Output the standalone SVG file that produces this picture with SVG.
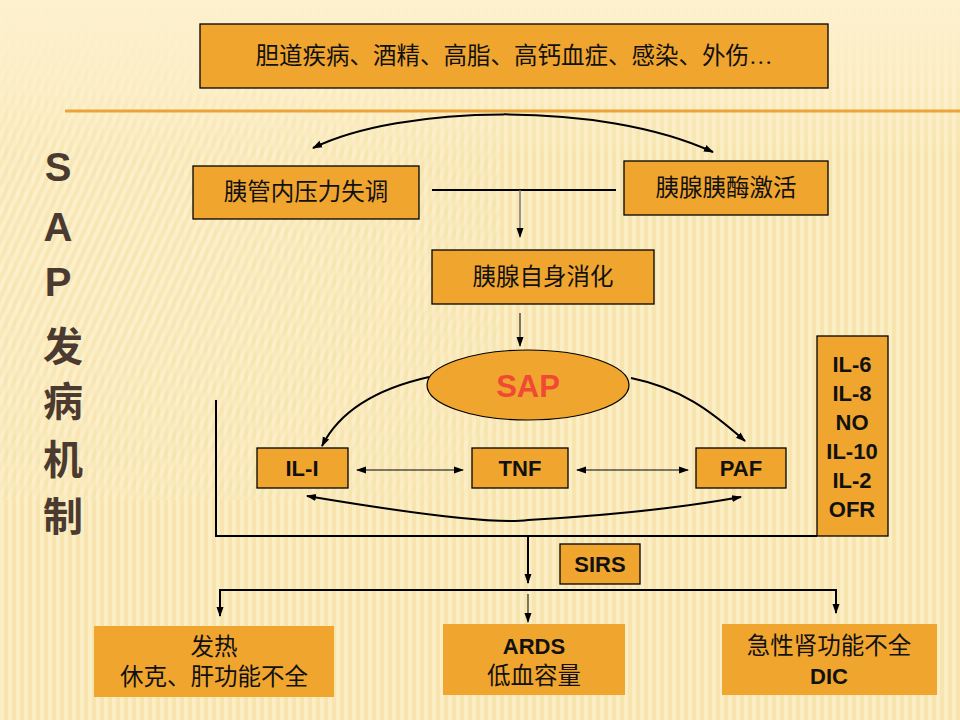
<svg xmlns="http://www.w3.org/2000/svg" width="960" height="720" viewBox="0 0 960 720">
<defs>
<pattern id="vs" width="8" height="20" patternUnits="userSpaceOnUse">
<rect width="8" height="20" fill="#F7E4AE"/>
<rect width="4" height="20" fill="#FBEDC4"/>
</pattern>
<pattern id="ds" width="8" height="20" patternUnits="userSpaceOnUse" patternTransform="rotate(25)">
<rect width="8" height="20" fill="#F8E6B4"/>
<rect width="4" height="20" fill="#FCF0CC"/>
</pattern>
<linearGradient id="fade" x1="0" y1="0" x2="0" y2="1">
<stop offset="0" stop-color="#FDF1CE" stop-opacity="1"/>
<stop offset="0.5" stop-color="#FDF1CE" stop-opacity="0.6"/>
<stop offset="1" stop-color="#FDF1CE" stop-opacity="0"/>
</linearGradient>
<radialGradient id="dmask" cx="0.1" cy="0.35" r="0.6">
<stop offset="0" stop-color="#fff" stop-opacity="1"/>
<stop offset="1" stop-color="#fff" stop-opacity="0"/>
</radialGradient>
<mask id="dm"><rect width="960" height="720" fill="url(#dmask)"/></mask>
<marker id="ah" viewBox="0 0 10 10" refX="9" refY="5" markerWidth="10" markerHeight="10" orient="auto-start-reverse" markerUnits="userSpaceOnUse">
<path d="M0,1.5 L10,5 L0,8.5 Z" fill="#000"/>
</marker>
</defs>
<style>
.box{fill:#F0A52F;stroke:#000;stroke-width:1.3}
.box2{fill:#F0A52F}
.cn{font-family:"Liberation Serif","Noto Sans CJK SC",serif;font-size:23.5px;fill:#111;text-anchor:middle}
.en{font-family:"Liberation Sans","Noto Sans CJK SC",sans-serif;font-size:22px;font-weight:bold;fill:#111;text-anchor:middle}
.ln{fill:none;stroke:#000;stroke-width:2}
.ln1{fill:none;stroke:#000;stroke-width:1}
.ttl{font-family:"Liberation Sans","Noto Sans CJK SC",sans-serif;font-size:40px;font-weight:bold;fill:#4A3A30;text-anchor:middle}
</style>
<rect width="960" height="720" fill="url(#vs)"/>
<rect x="0" y="0" width="500" height="500" fill="url(#ds)" mask="url(#dm)"/>
<rect x="0" y="0" width="960" height="160" fill="url(#fade)"/>
<line x1="65" y1="111" x2="960" y2="111" stroke="#EBA43C" stroke-width="3"/>

<g id="title">
<text class="ttl" x="58" y="181">S</text>
<text class="ttl" x="58" y="241">A</text>
<text class="ttl" x="58" y="296">P</text>
<text class="ttl" x="63" y="361" font-size="36">发</text>
<text class="ttl" x="63" y="416" font-size="36">病</text>
<text class="ttl" x="63" y="474" font-size="36">机</text>
<text class="ttl" x="63" y="531" font-size="36">制</text>
</g>

<g id="connectors">
<path class="ln" d="M313,148 C400,105 600,100 713,152" marker-start="url(#ah)" marker-end="url(#ah)"/>
<line class="ln" x1="432" y1="190" x2="616" y2="190"/>
<line x1="520" y1="190" x2="520" y2="237" stroke="#777" stroke-width="1.5" marker-end="url(#ah)"/>
<line class="ln1" x1="520" y1="313" x2="520" y2="346" marker-end="url(#ah)"/>
<path class="ln" d="M429,377 C380,388 340,410 322,446" marker-end="url(#ah)"/>
<path class="ln" d="M631,378 C680,388 710,410 745,441" marker-end="url(#ah)"/>
<line class="ln1" x1="357" y1="470" x2="463" y2="470" marker-start="url(#ah)" marker-end="url(#ah)"/>
<line class="ln1" x1="577" y1="470" x2="688" y2="470" marker-start="url(#ah)" marker-end="url(#ah)"/>
<path class="ln" d="M307,496 C420,515 500,524 528,520 C600,516 680,508 741,497" marker-start="url(#ah)" marker-end="url(#ah)"/>
<polyline class="ln" points="216,400 216,536 817,536"/>
<line class="ln" x1="528" y1="536" x2="528" y2="583" marker-end="url(#ah)"/>
<polyline class="ln" points="220,606 220,590 836,590 836,606"/>
<line class="ln" x1="220" y1="600" x2="220" y2="616" marker-end="url(#ah)"/>
<line class="ln" x1="836" y1="600" x2="836" y2="613" marker-end="url(#ah)"/>
<line class="ln1" x1="528" y1="594" x2="528" y2="622" marker-end="url(#ah)"/>
</g>

<g id="n-causes">
<rect class="box" x="200" y="24" width="628" height="64"/>
<text class="cn" x="514" y="64">胆道疾病、酒精、高脂、高钙血症、感染、外伤…</text>
</g>
<g id="n-pressure">
<rect class="box" x="193" y="166" width="226" height="53"/>
<text class="cn" x="306" y="200">胰管内压力失调</text>
</g>
<g id="n-enzyme">
<rect class="box" x="624" y="161" width="204" height="54"/>
<text class="cn" x="726" y="196">胰腺胰酶激活</text>
</g>
<g id="n-autodigest">
<rect class="box" x="432" y="250" width="222" height="54"/>
<text class="cn" x="543" y="285">胰腺自身消化</text>
</g>
<g id="n-sap">
<ellipse cx="528" cy="385" rx="101" ry="35" fill="#F0A52F" stroke="#000" stroke-width="1.2"/>
<text x="528" y="397" font-family="Liberation Sans, sans-serif" font-size="31" font-weight="bold" fill="#F04A35" text-anchor="middle">SAP</text>
</g>
<g id="n-il1">
<rect class="box" x="257" y="448" width="91" height="40"/>
<text class="en" x="302" y="476">IL-I</text>
</g>
<g id="n-tnf">
<rect class="box" x="472" y="448" width="96" height="40"/>
<text class="en" x="520" y="476">TNF</text>
</g>
<g id="n-paf">
<rect class="box" x="696" y="448" width="90" height="40"/>
<text class="en" x="741" y="476">PAF</text>
</g>
<g id="n-cytokines">
<rect class="box" x="817" y="336" width="71" height="200"/>
<text class="en" x="852" y="372">IL-6</text>
<text class="en" x="852" y="401">IL-8</text>
<text class="en" x="852" y="430">NO</text>
<text class="en" x="852" y="459">IL-10</text>
<text class="en" x="852" y="488">IL-2</text>
<text class="en" x="852" y="517">OFR</text>
</g>
<g id="n-sirs">
<rect class="box" x="560" y="544" width="80" height="40"/>
<text class="en" x="600" y="572">SIRS</text>
</g>
<g id="n-fever">
<rect class="box2" x="94" y="626" width="240" height="71"/>
<text class="cn" x="214" y="655">发热</text>
<text class="cn" x="214" y="685">休克、肝功能不全</text>
</g>
<g id="n-ards">
<rect class="box2" x="443" y="624" width="182" height="71"/>
<text class="en" x="534" y="654">ARDS</text>
<text class="cn" x="534" y="684">低血容量</text>
</g>
<g id="n-renal">
<rect class="box2" x="722" y="624" width="215" height="71"/>
<text class="cn" x="829" y="654">急性肾功能不全</text>
<text class="en" x="829" y="684">DIC</text>
</g>
</svg>
